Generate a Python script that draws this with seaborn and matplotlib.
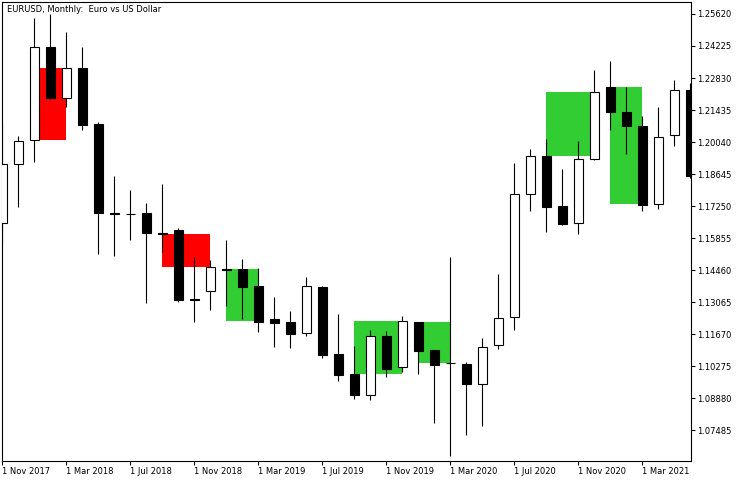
"""
EURUSD monthly candlestick chart (MetaTrader style) with highlighted zones.
"""
import matplotlib
matplotlib.use("Agg")
import matplotlib.pyplot as plt
import numpy as np
import pandas as pd
import seaborn as sns

# -----------------------------
# Data
# -----------------------------
months = pd.date_range("2017-11-01", periods=44, freq="MS")

opens = [1.1650, 1.1907, 1.2011, 1.2417, 1.2197, 1.2327, 1.2082, 1.1693, 1.1688, 1.1693,
         1.1606, 1.1620, 1.1317, 1.1353, 1.1452, 1.1450, 1.1376, 1.1232, 1.1219, 1.1170,
         1.1372, 1.1080, 1.0993, 1.0902, 1.1158, 1.1024, 1.1219, 1.1097, 1.1042, 1.1036,
         1.0950, 1.1118, 1.1240, 1.1777, 1.1943, 1.1725, 1.1650, 1.1929, 1.2243, 1.2133,
         1.2072, 1.1732, 1.2033, 1.2229]
highs = [1.2092, 1.2030, 1.2543, 1.2562, 1.2484, 1.2418, 1.2091, 1.1857, 1.1795, 1.1739,
         1.1822, 1.1629, 1.1501, 1.1490, 1.1577, 1.1494, 1.1456, 1.1328, 1.1267, 1.1416,
         1.1378, 1.1254, 1.1115, 1.1184, 1.1181, 1.1245, 1.1221, 1.1099, 1.1504, 1.1045,
         1.1151, 1.1430, 1.1912, 1.1973, 1.2018, 1.1886, 1.2008, 1.2318, 1.2357, 1.2243,
         1.2116, 1.2155, 1.2274, 1.2260]
lows = [1.1554, 1.1722, 1.1918, 1.2191, 1.2158, 1.2056, 1.1514, 1.1508, 1.1578, 1.1303,
        1.1526, 1.1305, 1.1218, 1.1272, 1.1289, 1.1232, 1.1177, 1.1112, 1.1107, 1.1160,
        1.1064, 1.0963, 1.0885, 1.0881, 1.0981, 1.1003, 1.0993, 1.0780, 1.0636, 1.0728,
        1.0767, 1.1103, 1.1186, 1.1702, 1.1613, 1.1644, 1.1604, 1.1925, 1.2056, 1.1953,
        1.1705, 1.1713, 1.1988, 1.1848]
closes = [1.1907, 1.2008, 1.2417, 1.2197, 1.2327, 1.2079, 1.1693, 1.1688, 1.1690, 1.1606,
          1.1604, 1.1317, 1.1319, 1.1458, 1.1448, 1.1373, 1.1221, 1.1216, 1.1168, 1.1375,
          1.1077, 1.0990, 1.0902, 1.1157, 1.1016, 1.1224, 1.1094, 1.1033, 1.1040, 1.0950,
          1.1110, 1.1235, 1.1777, 1.1942, 1.1722, 1.1648, 1.1929, 1.2221, 1.2136, 1.2075,
          1.1731, 1.2026, 1.2229, 1.1857]

# zones: start bar, end bar, upper price, lower price, colour
zone_start = [2, 10, 14, 22, 26, 34, 38]
zone_end = [4, 13, 16, 25, 28, 37, 40]
zone_top = [1.2327, 1.1603, 1.1450, 1.1224, 1.1219, 1.2223, 1.2244]
zone_bottom = [1.2013, 1.1460, 1.1225, 1.0993, 1.1042, 1.1944, 1.1735]
zone_colors = ["#FF0000", "#FF0000", "#32CD32", "#32CD32", "#32CD32", "#32CD32", "#32CD32"]

y_ticks = [1.07485, 1.08880, 1.10275, 1.11670, 1.13065, 1.14460, 1.15855,
           1.17250, 1.18645, 1.20040, 1.21435, 1.22830, 1.24225, 1.25620]

title = "EURUSD, Monthly:  Euro vs US Dollar"

# -----------------------------
# Plot
# -----------------------------
sns.set_theme(style="white")
plt.rcParams["font.family"] = ["DejaVu Sans"]

W, H = 744, 482
fig = plt.figure(figsize=(W / 100, H / 100), dpi=100)
fig.patch.set_facecolor("white")
left, right, top, bottom = 2.3, 691.3, 2.3, 460.7
ax = fig.add_axes([left / W, 1 - bottom / H, (right - left) / W, (bottom - top) / H])
ax.set_facecolor("white")

df = pd.DataFrame({"Open": opens, "High": highs, "Low": lows, "Close": closes}, index=months)
idx = np.arange(len(df))

# zones behind candles
zs = np.array(zone_start, dtype=float)
ze = np.array(zone_end, dtype=float)
ax.bar((zs + ze) / 2, np.array(zone_top) - np.array(zone_bottom), width=ze - zs,
       bottom=zone_bottom, color=zone_colors, linewidth=0, zorder=1)

# wicks
ax.vlines(idx, df["Low"], df["High"], color="black", linewidth=0.8, zorder=2)

# bodies
up = df["Close"] >= df["Open"]
body_low = np.minimum(df["Open"], df["Close"])
body_h = (df["Close"] - df["Open"]).abs()
fills = np.where(up, "white", "black")
ax.bar(idx, body_h, width=0.58, bottom=body_low, color=fills,
       edgecolor="black", linewidth=0.8, zorder=3)

ax.set_xlim(0, (right - left) / 16)
ax.set_ylim(1.06147, 1.26130)

# axes / ticks
for s in ax.spines.values():
    s.set_visible(True)
    s.set_color("black")
    s.set_linewidth(0.8)

ax.yaxis.tick_right()
ax.set_yticks(y_ticks)
ax.set_yticklabels([f"{v:.5f}" for v in y_ticks])

xt = idx[::4]
ax.set_xticks(xt)
ax.set_xticklabels([f"1 {d.strftime('%b %Y')}" for d in months[::4]])
for lbl in ax.get_xticklabels():
    lbl.set_ha("left")

ax.tick_params(axis="both", direction="out", length=3, width=0.8, color="black",
               labelsize=6, labelcolor="black", pad=1.5)
ax.tick_params(axis="x", bottom=True, top=False)
ax.tick_params(axis="y", right=True, left=False)
ax.grid(False)

fig.text(6.7 / W, 1 - 9.5 / H, title, ha="left", va="center", fontsize=6, color="black")

fig.savefig("out.png", dpi=100, facecolor="white")
